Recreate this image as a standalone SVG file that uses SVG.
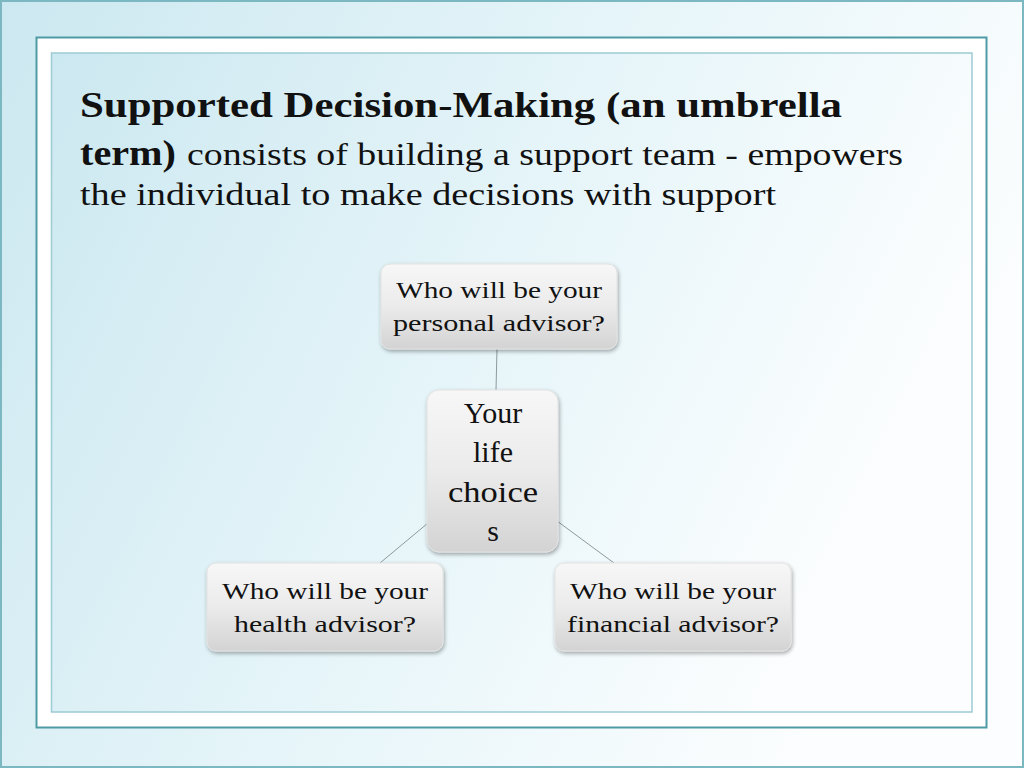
<svg xmlns="http://www.w3.org/2000/svg" width="1024" height="768" viewBox="0 0 1024 768">
<defs>
<linearGradient id="bg" x1="0" y1="0" x2="1" y2="0.35">
<stop offset="0" stop-color="#cce8f0"/>
<stop offset="0.55" stop-color="#e6f5f9"/>
<stop offset="1" stop-color="#fbfdfe"/>
</linearGradient>
<linearGradient id="node" x1="0" y1="0" x2="0" y2="1">
<stop offset="0" stop-color="#f7f7f7"/>
<stop offset="0.5" stop-color="#ebebeb"/>
<stop offset="1" stop-color="#d3d3d3"/>
</linearGradient>
<filter id="sh" x="-10%" y="-10%" width="125%" height="130%">
<feGaussianBlur in="SourceAlpha" stdDeviation="2"/>
<feOffset dx="1" dy="2" result="b"/>
<feComponentTransfer><feFuncA type="linear" slope="0.35"/></feComponentTransfer>
<feMerge><feMergeNode/><feMergeNode in="SourceGraphic"/></feMerge>
</filter>
</defs>
<style>
.box{fill:url(#node);stroke:#e2e2e2;stroke-width:1;filter:url(#sh)}
.lbl{font-family:"Liberation Serif","DejaVu Serif",serif;font-size:24px;fill:#111;text-anchor:middle}
.big{font-size:30px}
.conn{stroke:#8a9a9e;stroke-width:1;fill:none}
.title{font-family:"Liberation Serif","DejaVu Serif",serif;fill:#111}
</style>
<rect x="0" y="0" width="1024" height="768" fill="url(#bg)"/>
<rect x="1" y="1" width="1022" height="766" fill="none" stroke="#7bb8c2" stroke-width="2"/>
<rect x="36.5" y="37.5" width="950" height="690" fill="#ffffff" stroke="#4e9ba6" stroke-width="2"/>
<rect x="51.5" y="53" width="920.5" height="659" fill="url(#bg)" stroke="#9ccbd2" stroke-width="1.5"/>

<g id="title" class="title">
<text x="80" y="117" font-size="35" font-weight="bold" textLength="762" lengthAdjust="spacingAndGlyphs">Supported Decision-Making (an umbrella</text>
<text x="80" y="165" font-size="35" font-weight="bold" textLength="96" lengthAdjust="spacingAndGlyphs">term)</text>
<text x="187" y="165" font-size="31" textLength="716" lengthAdjust="spacingAndGlyphs">consists of building a support team - empowers</text>
<text x="80" y="205" font-size="31" textLength="696" lengthAdjust="spacingAndGlyphs">the individual to make decisions with support</text>
</g>

<g id="connectors">
<line class="conn" x1="497" y1="349" x2="496" y2="390"/>
<line class="conn" x1="428" y1="523" x2="380" y2="563"/>
<line class="conn" x1="557" y1="521" x2="614" y2="563"/>
</g>

<g id="node-personal">
<rect class="box" x="381" y="264" width="236" height="85" rx="9"/>
<text class="lbl" x="499" y="298" textLength="206" lengthAdjust="spacingAndGlyphs">Who will be your</text>
<text class="lbl" x="499" y="331" textLength="212" lengthAdjust="spacingAndGlyphs">personal advisor?</text>
</g>

<g id="node-center">
<rect class="box" x="427" y="390" width="131" height="162" rx="12"/>
<text class="lbl big" x="493" y="423">Your</text>
<text class="lbl big" x="493" y="462">life</text>
<text class="lbl big" x="493" y="502" textLength="90" lengthAdjust="spacingAndGlyphs">choice</text>
<text class="lbl big" x="493" y="541">s</text>
</g>

<g id="node-health">
<rect class="box" x="207" y="563" width="236" height="88" rx="9"/>
<text class="lbl" x="325" y="599" textLength="206" lengthAdjust="spacingAndGlyphs">Who will be your</text>
<text class="lbl" x="325" y="632" textLength="182" lengthAdjust="spacingAndGlyphs">health advisor?</text>
</g>

<g id="node-financial">
<rect class="box" x="555" y="563" width="236" height="88" rx="9"/>
<text class="lbl" x="673" y="599" textLength="206" lengthAdjust="spacingAndGlyphs">Who will be your</text>
<text class="lbl" x="673" y="632" textLength="212" lengthAdjust="spacingAndGlyphs">financial advisor?</text>
</g>
</svg>
